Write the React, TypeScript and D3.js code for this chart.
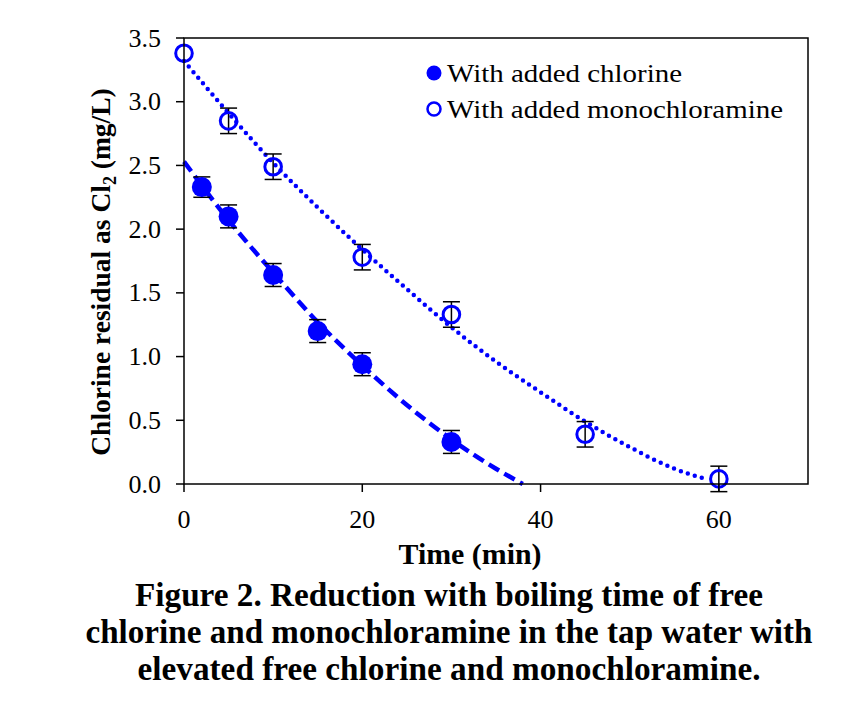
import React from "react";
import * as d3 from "d3";

const chlorineX = [2, 5, 10, 15, 20, 30];
const chlorineY = [2.33, 2.1, 1.64, 1.2, 0.94, 0.33];
const chlorineErr = [0.08, 0.09, 0.09, 0.09, 0.09, 0.09];

const monoX = [0, 5, 10, 20, 30, 45, 60];
const monoY = [3.38, 2.85, 2.49, 1.78, 1.33, 0.39, 0.04];
const monoErr = [0, 0.1, 0.1, 0.1, 0.1, 0.1, 0.1];

const chlorineTrendX = [0, 5, 10, 15, 20, 25, 30, 35, 38];
const chlorineTrendY = [2.53, 2.07, 1.66, 1.27, 0.93, 0.62, 0.35, 0.12, 0.0];

const monoTrendX = [0, 5, 10, 15, 20, 25, 30, 35, 40, 45, 50, 55, 58.5];
const monoTrendY = [3.32, 2.91, 2.52, 2.17, 1.84, 1.53, 1.23, 0.96, 0.72, 0.49, 0.29, 0.12, 0.04];

const xTicks = [0, 20, 40, 60];
const yTicks = [0, 0.5, 1, 1.5, 2, 2.5, 3, 3.5];

const legendLabels = ["With added chlorine", "With added monochloramine"];
const captionLines = [
  "Figure 2. Reduction with boiling time of free",
  "chlorine and monochloramine in the tap water with",
  "elevated free chlorine and monochloramine.",
];

const BLUE = "#0000ff";
const SERIF = "Liberation Serif, Times New Roman, Times, serif";

export default function App() {
  const W = 864;
  const H = 711;
  const left = 184, right = 808, top = 38, bottom = 484;
  const x = d3.scaleLinear().domain([0, 70]).range([left, right]);
  const y = d3.scaleLinear().domain([0, 3.5]).range([bottom, top]);

  const line = d3
    .line<[number, number]>()
    .x((d) => x(d[0]))
    .y((d) => y(d[1]))
    .curve(d3.curveMonotoneX);

  const chlTrend = line(chlorineTrendX.map((v, i) => [v, chlorineTrendY[i]] as [number, number])) || "";
  const monoTrend = line(monoTrendX.map((v, i) => [v, monoTrendY[i]] as [number, number])) || "";

  const capW = 8.5;
  const serif = { fontFamily: SERIF };

  return (
    <svg width={W} height={H} style={{ position: "absolute", left: 0, top: 0, background: "#fff" }}>
      <rect x={0} y={0} width={W} height={H} fill="#fff" />
      {/* trend lines */}
      <path d={monoTrend} fill="none" stroke={BLUE} strokeWidth={4.5} strokeDasharray="0 7.3" strokeLinecap="round" />
      <path d={chlTrend} fill="none" stroke={BLUE} strokeWidth={4.5} strokeDasharray="12 6" />

      {/* error bars */}
      {chlorineX.map((v, i) => (
        <g key={"ce" + i} stroke="#000" strokeWidth={1.5}>
          <line x1={x(v)} x2={x(v)} y1={y(chlorineY[i] - chlorineErr[i])} y2={y(chlorineY[i] + chlorineErr[i])} />
          <line x1={x(v) - capW} x2={x(v) + capW} y1={y(chlorineY[i] - chlorineErr[i])} y2={y(chlorineY[i] - chlorineErr[i])} />
          <line x1={x(v) - capW} x2={x(v) + capW} y1={y(chlorineY[i] + chlorineErr[i])} y2={y(chlorineY[i] + chlorineErr[i])} />
        </g>
      ))}
      {monoX.map((v, i) =>
        monoErr[i] > 0 ? (
          <g key={"me" + i} stroke="#000" strokeWidth={1.5}>
            <line x1={x(v)} x2={x(v)} y1={y(monoY[i] - monoErr[i])} y2={y(monoY[i] + monoErr[i])} />
            <line x1={x(v) - capW} x2={x(v) + capW} y1={y(monoY[i] - monoErr[i])} y2={y(monoY[i] - monoErr[i])} />
            <line x1={x(v) - capW} x2={x(v) + capW} y1={y(monoY[i] + monoErr[i])} y2={y(monoY[i] + monoErr[i])} />
          </g>
        ) : null
      )}

      {/* markers */}
      {chlorineX.map((v, i) => (
        <circle key={"c" + i} cx={x(v)} cy={y(chlorineY[i])} r={10} fill={BLUE} />
      ))}
      {monoX.map((v, i) => (
        <circle key={"m" + i} cx={x(v)} cy={y(monoY[i])} r={8.3} fill="none" stroke={BLUE} strokeWidth={3} />
      ))}

      {/* frame */}
      <rect x={left} y={top} width={right - left} height={bottom - top} fill="none" stroke="#000" strokeWidth={1.5} />

      {/* y ticks */}
      {yTicks.map((t) => (
        <g key={"yt" + t}>
          <line x1={left - 8} x2={left} y1={y(t)} y2={y(t)} stroke="#000" strokeWidth={1.5} />
          <text x={161} y={y(t) + 8.5} textAnchor="end" style={serif} fontSize={26} fill="#000">
            {t.toFixed(1)}
          </text>
        </g>
      ))}
      {/* x ticks */}
      {xTicks.map((t) => (
        <g key={"xt" + t}>
          <line x1={x(t)} x2={x(t)} y1={bottom} y2={bottom + 8} stroke="#000" strokeWidth={1.5} />
          <text x={x(t)} y={528} textAnchor="middle" style={serif} fontSize={26} fill="#000">
            {t}
          </text>
        </g>
      ))}

      {/* axis titles */}
      <text x={470} y={564} textAnchor="middle" style={serif} fontWeight="bold" fontSize={29} fill="#000"
        textLength={143} lengthAdjust="spacingAndGlyphs">
        Time (min)
      </text>
      <text
        transform="translate(110,272) rotate(-90)"
        textAnchor="middle"
        style={serif}
        fontWeight="bold"
        fontSize={27.5}
        fill="#000"
      >
        Chlorine residual as Cl
        <tspan fontSize={18} dy={6}>2</tspan>
        <tspan dy={-6}> (mg/L)</tspan>
      </text>

      {/* legend */}
      <circle cx={434} cy={73} r={7.5} fill={BLUE} />
      <text x={447} y={82} style={serif} fontSize={26} fill="#000" textLength={235} lengthAdjust="spacingAndGlyphs">{legendLabels[0]}</text>
      <circle cx={434} cy={109} r={6.5} fill="none" stroke={BLUE} strokeWidth={2.5} />
      <text x={447} y={118} style={serif} fontSize={26} fill="#000" textLength={336} lengthAdjust="spacingAndGlyphs">{legendLabels[1]}</text>

      {/* caption */}
      {captionLines.map((s, i) => (
        <text
          key={"cap" + i}
          x={449}
          y={606 + i * 37}
          textAnchor="middle"
          style={serif}
          fontWeight="bold"
          fontSize={33}
          fill="#000"
          textLength={[628, 727, 623][i]}
          lengthAdjust="spacingAndGlyphs"
        >
          {s}
        </text>
      ))}
    </svg>
  );
}
